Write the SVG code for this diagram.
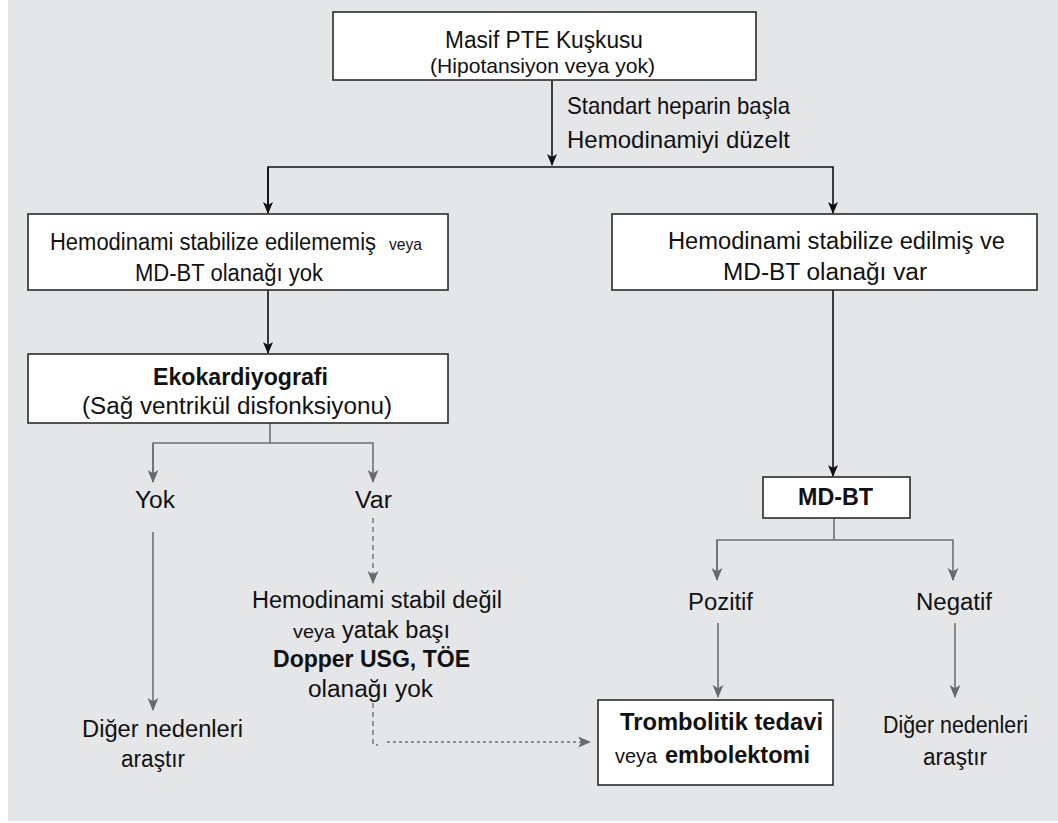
<svg xmlns="http://www.w3.org/2000/svg" width="1058" height="823" viewBox="0 0 1058 823">
  <style>
    .box { fill: #ffffff; stroke: #2b2b2b; stroke-width: 1.6; }
    .t { font-family: "Liberation Sans", Arial, sans-serif; fill: #111111; }
    .n { font-size: 23px; }
    .b { font-size: 23px; font-weight: bold; }
    .c { font-family: "Liberation Sans Narrow", "Liberation Sans", Arial, sans-serif; fill: #111111; }
    .dark { stroke: #111111; stroke-width: 1.6; fill: none; }
    .grey { stroke: #707070; stroke-width: 1.6; fill: none; }
    .dash { stroke: #707070; stroke-width: 1.4; fill: none; stroke-dasharray: 5 4; }
    .dot { stroke: #707070; stroke-width: 1.4; fill: none; stroke-dasharray: 3 3; }
  </style>
  <defs>
    <marker id="arrDark" viewBox="0 0 12 12" refX="11" refY="6" markerWidth="12" markerHeight="12" markerUnits="userSpaceOnUse" orient="auto">
      <path d="M0,1 L12,6 L0,11 L3,6 z" fill="#111111"/>
    </marker>
    <marker id="arrGrey" viewBox="0 0 12 12" refX="11" refY="6" markerWidth="13" markerHeight="13" markerUnits="userSpaceOnUse" orient="auto">
      <path d="M0,1 L12,6 L0,11 L3,6 z" fill="#6a6a6a"/>
    </marker>
  </defs>

  <!-- page background -->
  <rect x="0" y="0" width="1058" height="823" fill="#ffffff"/>
  <rect x="8" y="0" width="1050" height="821" fill="#e5e6e8"/>

  <!-- connectors -->
  <g id="connectors">
    <line class="dark" x1="552" y1="80" x2="552" y2="165" marker-end="url(#arrDark)"/>
    <polyline class="dark" points="268,213 268,167 833,167 833,213" marker-end="url(#arrDark)"/>
    <line class="dark" x1="268" y1="167" x2="268" y2="213" marker-end="url(#arrDark)"/>
    <line class="dark" x1="268" y1="290" x2="268" y2="353" marker-end="url(#arrDark)"/>
    <line class="dark" x1="833" y1="290" x2="833" y2="476" marker-end="url(#arrDark)"/>

    <line class="grey" x1="270" y1="423" x2="270" y2="443"/>
    <polyline class="grey" points="153,482 153,443 373,443 373,482" marker-end="url(#arrGrey)"/>
    <line class="grey" x1="153" y1="443" x2="153" y2="482" marker-end="url(#arrGrey)"/>
    <line class="grey" x1="153" y1="532" x2="153" y2="710" marker-end="url(#arrGrey)"/>
    <line class="dash" x1="373" y1="518" x2="373" y2="583" marker-end="url(#arrGrey)"/>
    <polyline class="dash" points="373,703 373,745 378,745"/>
    <line class="dot" x1="387" y1="742" x2="590" y2="742" marker-end="url(#arrGrey)"/>

    <line class="grey" x1="834" y1="518" x2="834" y2="540"/>
    <polyline class="grey" points="717,580 717,540 953,540 953,580" marker-end="url(#arrGrey)"/>
    <line class="grey" x1="717" y1="540" x2="717" y2="580" marker-end="url(#arrGrey)"/>
    <line class="grey" x1="718" y1="623" x2="718" y2="697" marker-end="url(#arrGrey)"/>
    <line class="grey" x1="955" y1="623" x2="955" y2="697" marker-end="url(#arrGrey)"/>

    <text class="c" x="567" y="114" font-size="24" textLength="223" lengthAdjust="spacingAndGlyphs">Standart  heparin  başla</text>
    <text class="c" x="567" y="148" font-size="24" textLength="223" lengthAdjust="spacingAndGlyphs">Hemodinamiyi düzelt</text>
  </g>

  <!-- start -->
  <g id="start">
    <rect class="box" x="333" y="12" width="423" height="68"/>
    <text class="c" x="445" y="48" font-size="23" textLength="198" lengthAdjust="spacingAndGlyphs">Masif  PTE  Kuşkusu</text>
    <text class="c" x="430" y="73" font-size="21" textLength="225" lengthAdjust="spacingAndGlyphs">(Hipotansiyon veya yok)</text>
  </g>

  <!-- left branch -->
  <g id="unstable">
    <rect class="box" x="28" y="214" width="420" height="76"/>
    <text class="t n" x="50" y="250" textLength="326" lengthAdjust="spacingAndGlyphs">Hemodinami  stabilize  edilememiş</text>
    <text class="c" x="389" y="250" font-size="17" textLength="33" lengthAdjust="spacingAndGlyphs">veya</text>
    <text class="t n" x="135" y="281" textLength="188" lengthAdjust="spacingAndGlyphs">MD-BT  olanağı  yok</text>
  </g>

  <g id="echo">
    <rect class="box" x="28" y="354" width="420" height="69"/>
    <text class="t b" x="153" y="385" textLength="175" lengthAdjust="spacingAndGlyphs">Ekokardiyografi</text>
    <text class="t n" x="82" y="414" textLength="310" lengthAdjust="spacingAndGlyphs">(Sağ ventrikül disfonksiyonu)</text>
  </g>

  <g id="yok">
    <text class="t n" x="135" y="508" textLength="40" lengthAdjust="spacingAndGlyphs">Yok</text>
  </g>

  <g id="var">
    <text class="t n" x="355" y="508" textLength="37" lengthAdjust="spacingAndGlyphs">Var</text>
  </g>

  <g id="other-left">
    <text class="t n" x="82" y="737" textLength="161" lengthAdjust="spacingAndGlyphs">Diğer nedenleri</text>
    <text class="t n" x="121" y="767" textLength="64" lengthAdjust="spacingAndGlyphs">araştır</text>
  </g>

  <g id="no-bedside">
    <text class="t n" x="252" y="608" textLength="250" lengthAdjust="spacingAndGlyphs">Hemodinami stabil değil</text>
    <text class="c" x="293" y="638" font-size="19" textLength="42" lengthAdjust="spacingAndGlyphs">veya</text>
    <text class="t n" x="342" y="638" textLength="108" lengthAdjust="spacingAndGlyphs">yatak başı</text>
    <text class="t b" x="273" y="667" textLength="197" lengthAdjust="spacingAndGlyphs">Dopper  USG,  TÖE</text>
    <text class="t n" x="308" y="697" textLength="125" lengthAdjust="spacingAndGlyphs">olanağı yok</text>
  </g>

  <!-- right branch -->
  <g id="stable">
    <rect class="box" x="612" y="214" width="425" height="76"/>
    <text class="t n" x="668" y="249" textLength="337" lengthAdjust="spacingAndGlyphs">Hemodinami stabilize edilmiş ve</text>
    <text class="t n" x="723" y="280" textLength="204" lengthAdjust="spacingAndGlyphs">MD-BT olanağı var</text>
  </g>

  <g id="mdbt">
    <rect class="box" x="763" y="477" width="147" height="41"/>
    <text class="t b" x="798" y="505" textLength="75" lengthAdjust="spacingAndGlyphs">MD-BT</text>
  </g>

  <g id="pozitif">
    <text class="t n" x="688" y="610" textLength="65" lengthAdjust="spacingAndGlyphs">Pozitif</text>
  </g>

  <g id="negatif">
    <text class="t n" x="916" y="610" textLength="76" lengthAdjust="spacingAndGlyphs">Negatif</text>
  </g>

  <g id="treatment">
    <rect class="box" x="598" y="700" width="235" height="85"/>
    <text class="t b" x="620" y="730" textLength="203" lengthAdjust="spacingAndGlyphs">Trombolitik  tedavi</text>
    <text class="t" x="615" y="763" font-size="20" textLength="42" lengthAdjust="spacingAndGlyphs">veya</text>
    <text class="t b" x="665" y="763" textLength="145" lengthAdjust="spacingAndGlyphs">embolektomi</text>
  </g>

  <g id="other-right">
    <text class="t n" x="883" y="733" textLength="145" lengthAdjust="spacingAndGlyphs">Diğer  nedenleri</text>
    <text class="t n" x="923" y="765" textLength="64" lengthAdjust="spacingAndGlyphs">araştır</text>
  </g>
</svg>
